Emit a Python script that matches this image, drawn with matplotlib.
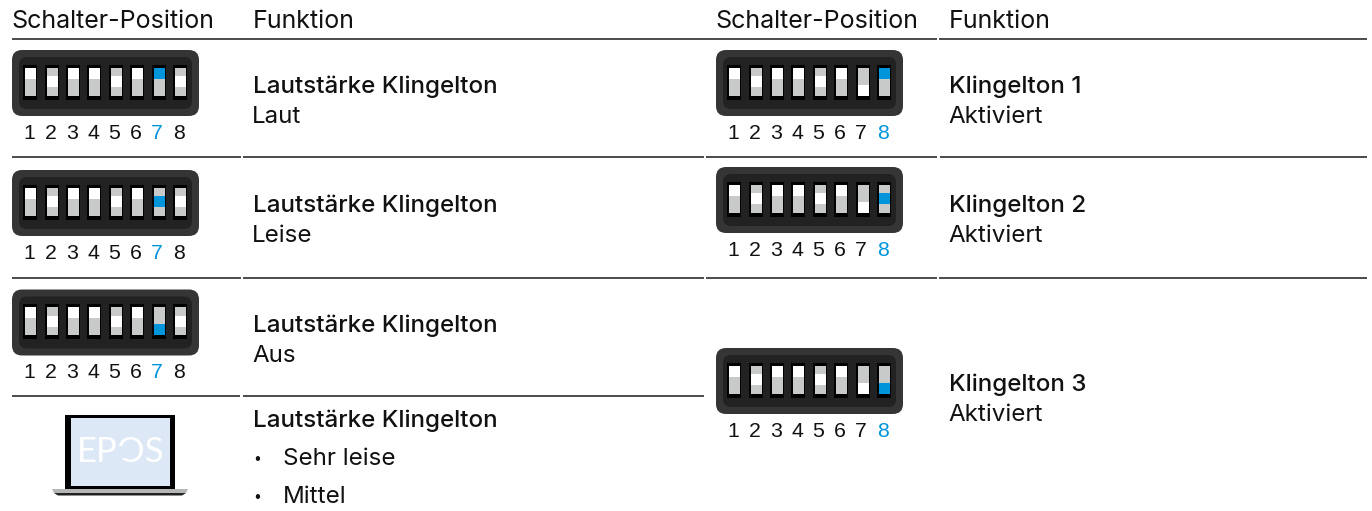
import matplotlib
matplotlib.use("Agg")
import matplotlib.pyplot as plt
from matplotlib.patches import FancyBboxPatch, Rectangle, Polygon

FONT = "Inter"
DIGIT_FONT = "Liberation Sans"
INK = "#111111"
BLUE = "#0095DB"
TEXT_SIZE = 17.4

# ---------- content ----------
header_left = ["Schalter-Position", "Funktion"]
header_right = ["Schalter-Position", "Funktion"]
base_states = [0, 1, 0, 0, 1, 0]
left_titles = ["Lautstärke Klingelton"] * 3
left_subs = ["Laut", "Leise", "Aus"]
left_sw7 = [0, 1, 2]
left_sw8 = [1, 1, 1]
right_titles = ["Klingelton 1", "Klingelton 2", "Klingelton 3"]
right_subs = ["Aktiviert", "Aktiviert", "Aktiviert"]
right_sw7 = [2, 2, 2]
right_sw8 = [0, 1, 2]
software_title = "Lautstärke Klingelton"
software_items = ["Sehr leise", "Mittel"]
logo_text = "EPOS"

# ---------- layout (pixels) ----------
W, H = 1372, 511
left_tops = [50, 170, 289.5]
right_tops = [50, 167, 348]
left_x, right_x = 12, 716
left_text_y = [93, 212, 332]
right_text_y = [93, 212, 391]
slot_dx = [11, 33, 54, 75, 97, 118, 140, 161]
digit_dx = [17, 38.5, 60, 81, 102.5, 124, 145, 167]
rules = [
    (39.5, 12, 937), (39.5, 939, 1367),
    (157.5, 12, 241), (157.5, 243, 704), (157.5, 706, 937), (157.5, 940, 1367),
    (278.5, 12, 241), (278.5, 243, 704), (278.5, 706, 937), (278.5, 939, 1367),
    (396.5, 12, 240), (396.5, 243, 704),
]

fig = plt.figure(figsize=(W / 100, H / 100), dpi=100, facecolor="white")
ax = fig.add_axes([0, 0, 1, 1])
ax.set_xlim(0, W)
ax.set_ylim(H, 0)
ax.axis("off")


def rbox(x, y, w, h, r, color, z=1):
    ax.add_patch(FancyBboxPatch((x + r, y + r), w - 2 * r, h - 2 * r,
                                boxstyle=f"round,pad={r},rounding_size={r}",
                                fc=color, ec="none", zorder=z))


def dip(x0, y0, states, active):
    rbox(x0, y0, 187, 66, 10, "#353535", 1)
    rbox(x0 + 7, y0 + 7, 173, 52, 8, "#222222", 2)
    for i, state in enumerate(states):
        sx = x0 + slot_dx[i]
        ax.add_patch(Rectangle((sx, y0 + 15), 14, 35, fc="#000000", ec="none", zorder=3))
        ax.add_patch(Rectangle((sx + 2, y0 + 18), 10.5, 28, fc="#C8CAC9", ec="none", zorder=4))
        ax.add_patch(Rectangle((sx + 2, y0 + 18 + state * 8.5), 10.5, 11,
                               fc=BLUE if i == active else "white", ec="none", zorder=5))
        ax.text(x0 + digit_dx[i], y0 + 83.5, str(i + 1), family=DIGIT_FONT,
                fontsize=15.3, ha="center", va="center",
                color=BLUE if i == active else INK, zorder=6)


def row(x, y, title, sub):
    ax.text(x, y, title, family=FONT, fontsize=TEXT_SIZE, fontweight="medium", color=INK, va="baseline")
    ax.text(x - 1, y + 30, sub, family=FONT, fontsize=TEXT_SIZE, color=INK, va="baseline")


for y, a, b in rules:
    ax.plot([a, b], [y, y], color="#1a1a1a", lw=1.1, solid_capstyle="butt", zorder=1)

for x, t in zip([11, 253, 715, 949], header_left + header_right):
    ax.text(x, 28, t, family=FONT, fontsize=18, color=INK, va="baseline")

for i in range(3):
    dip(left_x, left_tops[i], base_states + [left_sw7[i], left_sw8[i]], 6)
    row(253, left_text_y[i], left_titles[i], left_subs[i])
    dip(right_x, right_tops[i], base_states + [right_sw7[i], right_sw8[i]], 7)
    row(949, right_text_y[i], right_titles[i], right_subs[i])

# laptop
ax.add_patch(Rectangle((65, 415), 110, 74, fc="#000000", ec="none", zorder=1))
ax.add_patch(Rectangle((71, 418.5), 99, 67.5, fc="#DCE8F6", ec="none", zorder=2))
ax.add_patch(Polygon([(52, 489), (188, 489), (186, 493), (54, 493)], fc="#B5B7B7", ec="none", zorder=3))
ax.add_patch(Polygon([(54, 493), (186, 493), (182, 495.5), (58, 495.5)], fc="#222222", ec="none", zorder=3))
ax.text(121, 452, logo_text, family="Lato", fontsize=25, color="white",
        ha="center", va="center", zorder=4)
ax.add_patch(Rectangle((118, 446), 8, 12, fc="#DCE8F6", ec="none", zorder=5))

ax.text(253, 426.5, software_title, family=FONT, fontsize=TEXT_SIZE, fontweight="medium", color=INK, va="baseline")
for y, item in zip([465, 503], software_items):
    ax.text(257, y - 6, "•", family=FONT, fontsize=10, color=INK, va="center", ha="center")
    ax.text(283, y, item, family=FONT, fontsize=TEXT_SIZE, color=INK, va="baseline")

fig.savefig("out.png", dpi=100, facecolor="white")
